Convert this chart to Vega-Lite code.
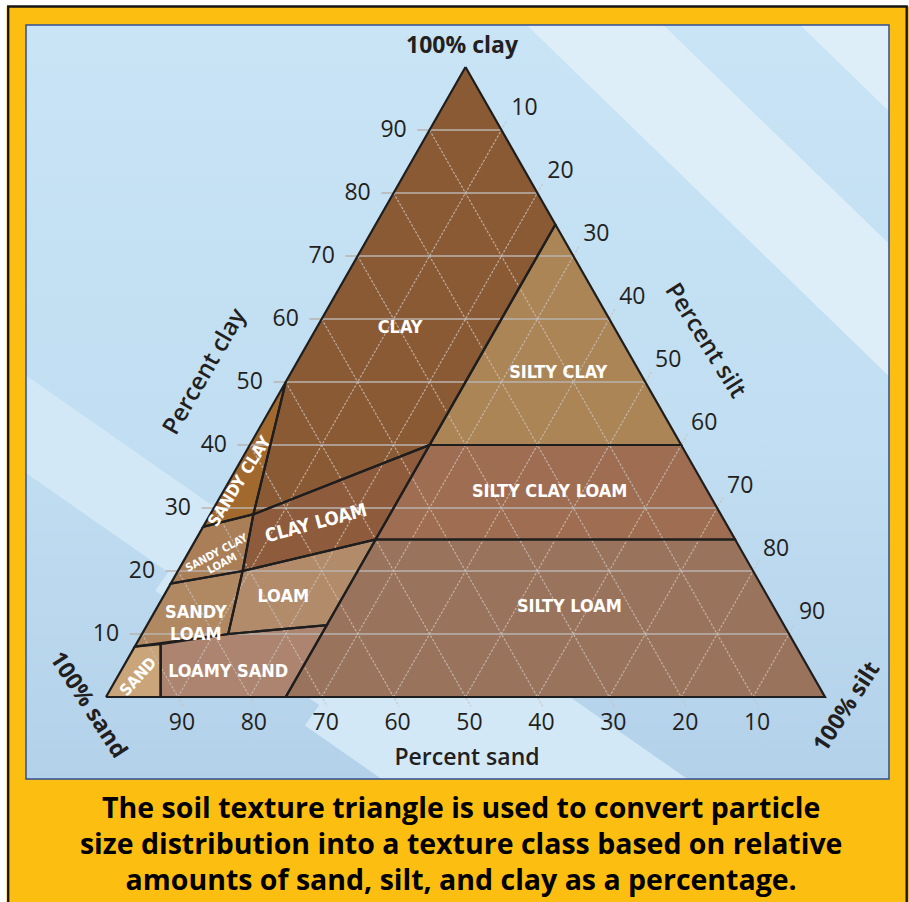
{
  "$schema": "https://vega.github.io/schema/vega-lite/v6.json",
  "width": 863,
  "height": 754,
  "autosize": {"type": "none"},
  "padding": {"left": 26, "top": 25, "right": 20, "bottom": 123},
  "background": "#FDBE12",
  "config": {"view": {"stroke": null}},
  "datasets": {
    "regions": [
      {"r": "CLAY", "i": 0, "clay": 100, "silt": 0},
      {"r": "CLAY", "i": 1, "clay": 75, "silt": 25},
      {"r": "CLAY", "i": 2, "clay": 40, "silt": 25},
      {"r": "CLAY", "i": 3, "clay": 29, "silt": 6},
      {"r": "CLAY", "i": 4, "clay": 50, "silt": 0},
      {"r": "CLAY", "i": 5, "clay": 100, "silt": 0},
      {"r": "SILTY CLAY", "i": 0, "clay": 75, "silt": 25},
      {"r": "SILTY CLAY", "i": 1, "clay": 40, "silt": 60},
      {"r": "SILTY CLAY", "i": 2, "clay": 40, "silt": 25},
      {"r": "SILTY CLAY", "i": 3, "clay": 75, "silt": 25},
      {"r": "SILTY CLAY LOAM", "i": 0, "clay": 40, "silt": 25},
      {"r": "SILTY CLAY LOAM", "i": 1, "clay": 40, "silt": 60},
      {"r": "SILTY CLAY LOAM", "i": 2, "clay": 25, "silt": 75},
      {"r": "SILTY CLAY LOAM", "i": 3, "clay": 25, "silt": 25},
      {"r": "SILTY CLAY LOAM", "i": 4, "clay": 40, "silt": 25},
      {"r": "SILTY LOAM", "i": 0, "clay": 25, "silt": 25},
      {"r": "SILTY LOAM", "i": 1, "clay": 25, "silt": 75},
      {"r": "SILTY LOAM", "i": 2, "clay": 0, "silt": 100},
      {"r": "SILTY LOAM", "i": 3, "clay": 0, "silt": 25},
      {"r": "SILTY LOAM", "i": 4, "clay": 25, "silt": 25},
      {"r": "SANDY CLAY", "i": 0, "clay": 50, "silt": 0},
      {"r": "SANDY CLAY", "i": 1, "clay": 29, "silt": 6},
      {"r": "SANDY CLAY", "i": 2, "clay": 27, "silt": 0},
      {"r": "SANDY CLAY", "i": 3, "clay": 50, "silt": 0},
      {"r": "CLAY LOAM", "i": 0, "clay": 29, "silt": 6},
      {"r": "CLAY LOAM", "i": 1, "clay": 40, "silt": 25},
      {"r": "CLAY LOAM", "i": 2, "clay": 25, "silt": 25},
      {"r": "CLAY LOAM", "i": 3, "clay": 20, "silt": 9},
      {"r": "CLAY LOAM", "i": 4, "clay": 29, "silt": 6},
      {"r": "SANDY CLAY LOAM", "i": 0, "clay": 27, "silt": 0},
      {"r": "SANDY CLAY LOAM", "i": 1, "clay": 29, "silt": 6},
      {"r": "SANDY CLAY LOAM", "i": 2, "clay": 20, "silt": 9},
      {"r": "SANDY CLAY LOAM", "i": 3, "clay": 18, "silt": 0},
      {"r": "SANDY CLAY LOAM", "i": 4, "clay": 27, "silt": 0},
      {"r": "LOAM", "i": 0, "clay": 20, "silt": 9},
      {"r": "LOAM", "i": 1, "clay": 25, "silt": 25},
      {"r": "LOAM", "i": 2, "clay": 11.4, "silt": 25},
      {"r": "LOAM", "i": 3, "clay": 10, "silt": 12},
      {"r": "LOAM", "i": 4, "clay": 20, "silt": 9},
      {"r": "SANDY LOAM", "i": 0, "clay": 18, "silt": 0},
      {"r": "SANDY LOAM", "i": 1, "clay": 20, "silt": 9},
      {"r": "SANDY LOAM", "i": 2, "clay": 10, "silt": 12},
      {"r": "SANDY LOAM", "i": 3, "clay": 8, "silt": 0},
      {"r": "SANDY LOAM", "i": 4, "clay": 18, "silt": 0},
      {"r": "LOAMY SAND", "i": 0, "clay": 8.4, "silt": 3.4},
      {"r": "LOAMY SAND", "i": 1, "clay": 10, "silt": 12},
      {"r": "LOAMY SAND", "i": 2, "clay": 11.4, "silt": 25},
      {"r": "LOAMY SAND", "i": 3, "clay": 0, "silt": 25},
      {"r": "LOAMY SAND", "i": 4, "clay": 0, "silt": 7.6},
      {"r": "LOAMY SAND", "i": 5, "clay": 8.4, "silt": 3.4},
      {"r": "SAND", "i": 0, "clay": 0, "silt": 0},
      {"r": "SAND", "i": 1, "clay": 0, "silt": 7.6},
      {"r": "SAND", "i": 2, "clay": 8.4, "silt": 3.4},
      {"r": "SAND", "i": 3, "clay": 8, "silt": 0},
      {"r": "SAND", "i": 4, "clay": 0, "silt": 0}
    ],
    "labels": [
      {"label": "CLAY", "clay": 58.6, "silt": 11.6},
      {"label": "SILTY CLAY", "clay": 51.4, "silt": 37.2},
      {"label": "SILTY CLAY LOAM", "clay": 32.6, "silt": 45.4},
      {"label": "SILTY LOAM", "clay": 14.3, "silt": 57.3},
      {"label": "CLAY LOAM", "clay": 27.6, "silt": 15.4},
      {"label": "LOAM", "clay": 15.9, "silt": 16.7},
      {"label": "SANDY\nLOAM", "clay": 13.3, "silt": 5.85},
      {"label": "LOAMY SAND", "clay": 4.0, "silt": 15.0},
      {"label": "SAND", "clay": 3.2, "silt": 2.9},
      {"label": "SANDY CLAY", "clay": 34.2, "silt": 1.5},
      {"label": "SANDY CLAY\nLOAM", "clay": 22.8, "silt": 4.0}
    ],
    "ticks": [
      {"axis": "clay", "v": 10}, {"axis": "clay", "v": 20}, {"axis": "clay", "v": 30},
      {"axis": "clay", "v": 40}, {"axis": "clay", "v": 50}, {"axis": "clay", "v": 60},
      {"axis": "clay", "v": 70}, {"axis": "clay", "v": 80}, {"axis": "clay", "v": 90},
      {"axis": "silt", "v": 10}, {"axis": "silt", "v": 20}, {"axis": "silt", "v": 30},
      {"axis": "silt", "v": 40}, {"axis": "silt", "v": 50}, {"axis": "silt", "v": 60},
      {"axis": "silt", "v": 70}, {"axis": "silt", "v": 80}, {"axis": "silt", "v": 90},
      {"axis": "sand", "v": 10}, {"axis": "sand", "v": 20}, {"axis": "sand", "v": 30},
      {"axis": "sand", "v": 40}, {"axis": "sand", "v": 50}, {"axis": "sand", "v": 60},
      {"axis": "sand", "v": 70}, {"axis": "sand", "v": 80}, {"axis": "sand", "v": 90}
    ]
  },
  "layer": [
    {
      "data": {"values": [{}]},
      "mark": {"type": "rect", "fill": "transparent", "stroke": "#FFFFFF", "strokeWidth": 13, "clip": false},
      "encoding": {
        "x": {"datum": -14.7427, "type": "quantitative", "scale": {"domain": [-11.1266, 108.9013], "nice": false, "zero": false}, "axis": null},
        "x2": {"datum": 113.213},
        "y": {"datum": 110.635, "type": "quantitative", "scale": {"domain": [-13.0159, 106.6667], "nice": false, "zero": false}, "axis": null},
        "y2": {"datum": -35.397}
      }
    },
    {
      "data": {"values": [{}]},
      "mark": {"type": "rect", "fill": "transparent", "stroke": "#151515", "strokeWidth": 2.3, "clip": false},
      "encoding": {
        "x": {"datum": -13.602, "type": "quantitative", "scale": {"domain": [-11.1266, 108.9013], "nice": false, "zero": false}, "axis": null},
        "x2": {"datum": 111.363},
        "y": {"datum": 109.603, "type": "quantitative", "scale": {"domain": [-13.0159, 106.6667], "nice": false, "zero": false}, "axis": null},
        "y2": {"datum": -34.603}
      }
    },
    {
      "data": {"values": [{}]},
      "mark": {"type": "rect", "strokeWidth": 0, "fill": {"gradient": "linear", "x1": 0, "y1": 0, "x2": 0, "y2": 1, "stops": [{"offset": 0, "color": "#C8E4F5"}, {"offset": 0.55, "color": "#C1DEF2"}, {"offset": 1, "color": "#B3D1E9"}]}},
      "encoding": {
        "x": {"datum": -11.1266, "type": "quantitative", "scale": {"domain": [-11.1266, 108.9013], "nice": false, "zero": false}, "axis": null},
        "x2": {"datum": 108.9013},
        "y": {"datum": 106.6667, "type": "quantitative", "scale": {"domain": [-13.0159, 106.6667], "nice": false, "zero": false}, "axis": null},
        "y2": {"datum": -13.0159}
      }
    },
    {
      "data": {"values": [{}]},
      "mark": {"type": "rule", "stroke": "#DEEEF8", "strokeWidth": 120, "strokeCap": "butt", "clip": true},
      "encoding": {
        "x": {"datum": 92.35, "type": "quantitative", "scale": {"domain": [-11.1266, 108.9013], "nice": false, "zero": false}, "axis": null},
        "x2": {"datum": 132.27},
        "y": {"datum": 124.6, "type": "quantitative", "scale": {"domain": [-13.0159, 106.6667], "nice": false, "zero": false}, "axis": null},
        "y2": {"datum": 80.32}
      }
    },
    {
      "data": {"values": [{}]},
      "mark": {"type": "rule", "stroke": "#DEEEF8", "strokeWidth": 95, "strokeCap": "butt", "clip": true},
      "encoding": {
        "x": {"datum": 58.03, "type": "quantitative", "scale": {"domain": [-11.1266, 108.9013], "nice": false, "zero": false}, "axis": null},
        "x2": {"datum": 127.93},
        "y": {"datum": 117.71, "type": "quantitative", "scale": {"domain": [-13.0159, 106.6667], "nice": false, "zero": false}, "axis": null},
        "y2": {"datum": 40.38}
      }
    },
    {
      "data": {"values": [{}]},
      "mark": {"type": "rule", "stroke": "#D3E8F6", "strokeWidth": 80, "strokeCap": "butt", "clip": true},
      "encoding": {
        "x": {"datum": -22.39, "type": "quantitative", "scale": {"domain": [-11.1266, 108.9013], "nice": false, "zero": false}, "axis": null},
        "x2": {"datum": 80.25},
        "y": {"datum": 52.25, "type": "quantitative", "scale": {"domain": [-13.0159, 106.6667], "nice": false, "zero": false}, "axis": null},
        "y2": {"datum": -29.46}
      }
    },
    {
      "data": {"values": [{}]},
      "mark": {"type": "rule", "stroke": "#D3E8F6", "strokeWidth": 125, "strokeCap": "butt", "clip": true},
      "encoding": {
        "x": {"datum": 11.82, "type": "quantitative", "scale": {"domain": [-11.1266, 108.9013], "nice": false, "zero": false}, "axis": null},
        "x2": {"datum": 80.25},
        "y": {"datum": 25.02, "type": "quantitative", "scale": {"domain": [-13.0159, 106.6667], "nice": false, "zero": false}, "axis": null},
        "y2": {"datum": -29.46}
      }
    },
    {
      "data": {"values": [{}]},
      "mark": {"type": "rule", "stroke": "#D3E8F6", "strokeWidth": 175, "strokeCap": "butt", "clip": true},
      "encoding": {
        "x": {"datum": 34.63, "type": "quantitative", "scale": {"domain": [-11.1266, 108.9013], "nice": false, "zero": false}, "axis": null},
        "x2": {"datum": 80.25},
        "y": {"datum": 6.86, "type": "quantitative", "scale": {"domain": [-13.0159, 106.6667], "nice": false, "zero": false}, "axis": null},
        "y2": {"datum": -29.46}
      }
    },
    {
      "data": {"values": [{}]},
      "mark": {"type": "rect", "fill": "transparent", "stroke": "#2F4F96", "strokeWidth": 1.5},
      "encoding": {
        "x": {"datum": -11.1266, "type": "quantitative", "scale": {"domain": [-11.1266, 108.9013], "nice": false, "zero": false}, "axis": null},
        "x2": {"datum": 108.9013},
        "y": {"datum": 106.6667, "type": "quantitative", "scale": {"domain": [-13.0159, 106.6667], "nice": false, "zero": false}, "axis": null},
        "y2": {"datum": -13.0159}
      }
    },
    {
      "data": {"name": "regions"},
      "transform": [{"calculate": "datum.silt + datum.clay / 2", "as": "x"}],
      "mark": {"type": "line", "strokeWidth": 0, "strokeOpacity": 0},
      "encoding": {
        "x": {"field": "x", "type": "quantitative", "scale": {"domain": [-11.1266, 108.9013], "nice": false, "zero": false}, "axis": null},
        "y": {"field": "clay", "type": "quantitative", "scale": {"domain": [-13.0159, 106.6667], "nice": false, "zero": false}, "axis": null},
        "order": {"field": "i", "type": "quantitative"},
        "detail": {"field": "r", "type": "nominal"},
        "fill": {"field": "r", "type": "nominal", "legend": null, "scale": {
          "domain": ["CLAY", "SILTY CLAY", "SILTY CLAY LOAM", "SILTY LOAM", "SANDY CLAY", "CLAY LOAM", "SANDY CLAY LOAM", "LOAM", "SANDY LOAM", "LOAMY SAND", "SAND"],
          "range": ["#8A5A35", "#AC8556", "#9F6E52", "#9A735C", "#A2692F", "#8E5C3D", "#AA7E56", "#B28B6B", "#B08963", "#AD8470", "#C9A579"]}}
      }
    },
    {
      "data": {"name": "ticks"},
      "transform": [
        {"filter": "datum.axis == 'clay'"},
        {"calculate": "datum.v / 2 - 1.7", "as": "gx1"},
        {"calculate": "datum.v", "as": "gy1"},
        {"calculate": "100 - datum.v / 2", "as": "gx2"},
        {"calculate": "datum.v", "as": "gy2"}
      ],
      "mark": {"type": "rule", "stroke": "#B8B3AE", "strokeWidth": 1.6},
      "encoding": {
        "x": {"field": "gx1", "type": "quantitative", "scale": {"domain": [-11.1266, 108.9013], "nice": false, "zero": false}, "axis": null},
        "y": {"field": "gy1", "type": "quantitative", "scale": {"domain": [-13.0159, 106.6667], "nice": false, "zero": false}, "axis": null},
        "x2": {"field": "gx2"},
        "y2": {"field": "gy2"}
      }
    },
    {
      "data": {"name": "ticks"},
      "transform": [
        {"filter": "datum.axis != 'clay'"},
        {"calculate": "datum.axis == 'silt' ? datum.v : (100 - datum.v) / 2", "as": "gx1"},
        {"calculate": "datum.axis == 'silt' ? 0 : 100 - datum.v", "as": "gy1"},
        {"calculate": "datum.axis == 'silt' ? datum.v + (101.65 - datum.v) / 2 : 100.75 - datum.v", "as": "gx2"},
        {"calculate": "datum.axis == 'silt' ? 101.65 - datum.v : -1.5", "as": "gy2"}
      ],
      "mark": {"type": "rule", "stroke": "#C9C0B8", "strokeWidth": 1.2, "strokeDash": [2.5, 1.5], "opacity": 0.8},
      "encoding": {
        "x": {"field": "gx1", "type": "quantitative", "scale": {"domain": [-11.1266, 108.9013], "nice": false, "zero": false}, "axis": null},
        "y": {"field": "gy1", "type": "quantitative", "scale": {"domain": [-13.0159, 106.6667], "nice": false, "zero": false}, "axis": null},
        "x2": {"field": "gx2"},
        "y2": {"field": "gy2"}
      }
    },
    {
      "data": {"name": "regions"},
      "transform": [{"calculate": "datum.silt + datum.clay / 2", "as": "x"}],
      "mark": {"type": "line", "stroke": "#1E1E1E", "strokeWidth": 2.2, "strokeJoin": "miter"},
      "encoding": {
        "x": {"field": "x", "type": "quantitative", "scale": {"domain": [-11.1266, 108.9013], "nice": false, "zero": false}, "axis": null},
        "y": {"field": "clay", "type": "quantitative", "scale": {"domain": [-13.0159, 106.6667], "nice": false, "zero": false}, "axis": null},
        "order": {"field": "i", "type": "quantitative"},
        "detail": {"field": "r", "type": "nominal"}
      }
    },
    {
      "data": {"name": "ticks"},
      "transform": [
        {"filter": "datum.axis == 'clay'"},
        {"calculate": "datum.v / 2", "as": "lx"},
        {"calculate": "datum.v", "as": "ly"}
      ],
      "mark": {"type": "text", "font": "Open Sans", "fontSize": 23, "color": "#231F20", "align": "center", "baseline": "middle", "dx": -36, "dy": 0},
      "encoding": {
        "x": {"field": "lx", "type": "quantitative", "scale": {"domain": [-11.1266, 108.9013], "nice": false, "zero": false}, "axis": null},
        "y": {"field": "ly", "type": "quantitative", "scale": {"domain": [-13.0159, 106.6667], "nice": false, "zero": false}, "axis": null},
        "text": {"field": "v", "type": "nominal"}
      }
    },
    {
      "data": {"name": "ticks"},
      "transform": [
        {"filter": "datum.axis == 'silt'"},
        {"calculate": "50 + datum.v / 2", "as": "lx"},
        {"calculate": "100 - datum.v", "as": "ly"}
      ],
      "mark": {"type": "text", "font": "Open Sans", "fontSize": 23, "color": "#231F20", "align": "center", "baseline": "middle", "dx": 23, "dy": -22},
      "encoding": {
        "x": {"field": "lx", "type": "quantitative", "scale": {"domain": [-11.1266, 108.9013], "nice": false, "zero": false}, "axis": null},
        "y": {"field": "ly", "type": "quantitative", "scale": {"domain": [-13.0159, 106.6667], "nice": false, "zero": false}, "axis": null},
        "text": {"field": "v", "type": "nominal"}
      }
    },
    {
      "data": {"name": "ticks"},
      "transform": [
        {"filter": "datum.axis == 'sand'"},
        {"calculate": "100 - datum.v", "as": "lx"},
        {"calculate": "0", "as": "ly"}
      ],
      "mark": {"type": "text", "font": "Open Sans", "fontSize": 23, "color": "#231F20", "align": "center", "baseline": "middle", "dx": 4, "dy": 26},
      "encoding": {
        "x": {"field": "lx", "type": "quantitative", "scale": {"domain": [-11.1266, 108.9013], "nice": false, "zero": false}, "axis": null},
        "y": {"field": "ly", "type": "quantitative", "scale": {"domain": [-13.0159, 106.6667], "nice": false, "zero": false}, "axis": null},
        "text": {"field": "v", "type": "nominal"}
      }
    },
    {
      "data": {"values": [{}]},
      "mark": {"type": "text", "text": "100% clay", "font": "Open Sans", "fontSize": 23, "fontWeight": "bold", "color": "#231F20", "align": "center", "baseline": "middle", "dx": -3.5, "dy": -21},
      "encoding": {
        "x": {"datum": 50, "type": "quantitative", "scale": {"domain": [-11.1266, 108.9013], "nice": false, "zero": false}, "axis": null},
        "y": {"datum": 100, "type": "quantitative", "scale": {"domain": [-13.0159, 106.6667], "nice": false, "zero": false}, "axis": null}
      }
    },
    {
      "data": {"values": [{}]},
      "mark": {"type": "text", "text": "Percent sand", "font": "Open Sans", "fontSize": 23, "fontWeight": 600, "color": "#231F20", "align": "center", "baseline": "middle", "dx": 1.5, "dy": 61},
      "encoding": {
        "x": {"datum": 50, "type": "quantitative", "scale": {"domain": [-11.1266, 108.9013], "nice": false, "zero": false}, "axis": null},
        "y": {"datum": 0, "type": "quantitative", "scale": {"domain": [-13.0159, 106.6667], "nice": false, "zero": false}, "axis": null}
      }
    },
    {
      "data": {"values": [{}]},
      "mark": {"type": "text", "text": "Percent clay", "font": "Open Sans", "fontSize": 24, "fontWeight": 600, "color": "#231F20", "align": "center", "baseline": "middle", "angle": -60},
      "encoding": {
        "x": {"datum": 13.77, "type": "quantitative", "scale": {"domain": [-11.1266, 108.9013], "nice": false, "zero": false}, "axis": null},
        "y": {"datum": 51.59, "type": "quantitative", "scale": {"domain": [-13.0159, 106.6667], "nice": false, "zero": false}, "axis": null}
      }
    },
    {
      "data": {"values": [{}]},
      "mark": {"type": "text", "text": "Percent silt", "font": "Open Sans", "fontSize": 24, "fontWeight": 600, "color": "#231F20", "align": "center", "baseline": "middle", "angle": 58},
      "encoding": {
        "x": {"datum": 83.31, "type": "quantitative", "scale": {"domain": [-11.1266, 108.9013], "nice": false, "zero": false}, "axis": null},
        "y": {"datum": 56.51, "type": "quantitative", "scale": {"domain": [-13.0159, 106.6667], "nice": false, "zero": false}, "axis": null}
      }
    },
    {
      "data": {"values": [{}]},
      "mark": {"type": "text", "text": "100% sand", "font": "Open Sans", "fontSize": 23, "fontWeight": "bold", "color": "#231F20", "align": "center", "baseline": "middle", "angle": 57},
      "encoding": {
        "x": {"datum": -2.5, "type": "quantitative", "scale": {"domain": [-11.1266, 108.9013], "nice": false, "zero": false}, "axis": null},
        "y": {"datum": -1.27, "type": "quantitative", "scale": {"domain": [-13.0159, 106.6667], "nice": false, "zero": false}, "axis": null}
      }
    },
    {
      "data": {"values": [{}]},
      "mark": {"type": "text", "text": "100% silt", "font": "Open Sans", "fontSize": 23, "fontWeight": "bold", "color": "#231F20", "align": "center", "baseline": "middle", "angle": -57},
      "encoding": {
        "x": {"datum": 103.06, "type": "quantitative", "scale": {"domain": [-11.1266, 108.9013], "nice": false, "zero": false}, "axis": null},
        "y": {"datum": -1.59, "type": "quantitative", "scale": {"domain": [-13.0159, 106.6667], "nice": false, "zero": false}, "axis": null}
      }
    },
    {
      "data": {"name": "labels"},
      "transform": [
        {"filter": {"field": "label", "oneOf": ["CLAY", "SILTY CLAY", "SILTY CLAY LOAM", "SILTY LOAM", "LOAM", "SANDY\nLOAM", "LOAMY SAND"]}},
        {"calculate": "datum.silt + datum.clay / 2", "as": "x"}
      ],
      "mark": {"type": "text", "font": "DejaVu Sans Condensed, sans-serif", "fontSize": 18, "fontWeight": "bold", "color": "#FFFFFF", "align": "center", "baseline": "middle", "lineBreak": "\n", "lineHeight": 22},
      "encoding": {
        "x": {"field": "x", "type": "quantitative", "scale": {"domain": [-11.1266, 108.9013], "nice": false, "zero": false}, "axis": null},
        "y": {"field": "clay", "type": "quantitative", "scale": {"domain": [-13.0159, 106.6667], "nice": false, "zero": false}, "axis": null},
        "text": {"field": "label", "type": "nominal"}
      }
    },
    {
      "data": {"name": "labels"},
      "transform": [
        {"filter": {"field": "label", "equal": "CLAY LOAM"}},
        {"calculate": "datum.silt + datum.clay / 2", "as": "x"}
      ],
      "mark": {"type": "text", "font": "DejaVu Sans Condensed, sans-serif", "fontSize": 18.5, "fontWeight": "bold", "color": "#FFFFFF", "align": "center", "baseline": "middle", "angle": -15},
      "encoding": {
        "x": {"field": "x", "type": "quantitative", "scale": {"domain": [-11.1266, 108.9013], "nice": false, "zero": false}, "axis": null},
        "y": {"field": "clay", "type": "quantitative", "scale": {"domain": [-13.0159, 106.6667], "nice": false, "zero": false}, "axis": null},
        "text": {"field": "label", "type": "nominal"}
      }
    },
    {
      "data": {"name": "labels"},
      "transform": [
        {"filter": {"field": "label", "equal": "SANDY CLAY"}},
        {"calculate": "datum.silt + datum.clay / 2", "as": "x"}
      ],
      "mark": {"type": "text", "font": "DejaVu Sans Condensed, sans-serif", "fontSize": 16.5, "fontWeight": "bold", "color": "#FFFFFF", "align": "center", "baseline": "middle", "angle": -58},
      "encoding": {
        "x": {"field": "x", "type": "quantitative", "scale": {"domain": [-11.1266, 108.9013], "nice": false, "zero": false}, "axis": null},
        "y": {"field": "clay", "type": "quantitative", "scale": {"domain": [-13.0159, 106.6667], "nice": false, "zero": false}, "axis": null},
        "text": {"field": "label", "type": "nominal"}
      }
    },
    {
      "data": {"name": "labels"},
      "transform": [
        {"filter": {"field": "label", "oneOf": ["SANDY CLAY\nLOAM"]}},
        {"calculate": "datum.silt + datum.clay / 2", "as": "x"}
      ],
      "mark": {"type": "text", "font": "DejaVu Sans Condensed, sans-serif", "fontSize": 11, "fontWeight": "bold", "color": "#FFFFFF", "align": "center", "baseline": "middle", "angle": -28, "lineBreak": "\n", "lineHeight": 12},
      "encoding": {
        "x": {"field": "x", "type": "quantitative", "scale": {"domain": [-11.1266, 108.9013], "nice": false, "zero": false}, "axis": null},
        "y": {"field": "clay", "type": "quantitative", "scale": {"domain": [-13.0159, 106.6667], "nice": false, "zero": false}, "axis": null},
        "text": {"field": "label", "type": "nominal"}
      }
    },
    {
      "data": {"name": "labels"},
      "transform": [
        {"filter": {"field": "label", "equal": "SAND"}},
        {"calculate": "datum.silt + datum.clay / 2", "as": "x"}
      ],
      "mark": {"type": "text", "font": "DejaVu Sans Condensed, sans-serif", "fontSize": 16, "fontWeight": "bold", "color": "#FFFFFF", "align": "center", "baseline": "middle", "angle": -48},
      "encoding": {
        "x": {"field": "x", "type": "quantitative", "scale": {"domain": [-11.1266, 108.9013], "nice": false, "zero": false}, "axis": null},
        "y": {"field": "clay", "type": "quantitative", "scale": {"domain": [-13.0159, 106.6667], "nice": false, "zero": false}, "axis": null},
        "text": {"field": "label", "type": "nominal"}
      }
    },
    {
      "data": {"values": [{}]},
      "mark": {"type": "text", "text": ["The soil texture triangle is used to convert particle", "size distribution into a texture class based on relative", "amounts of sand, silt, and clay as a percentage."], "font": "Open Sans", "fontSize": 28.5, "fontWeight": "bold", "color": "#000000", "align": "center", "baseline": "top", "lineHeight": 36, "clip": false},
      "encoding": {
        "x": {"datum": 49.4, "type": "quantitative", "scale": {"domain": [-11.1266, 108.9013], "nice": false, "zero": false}, "axis": null},
        "y": {"datum": -15.56, "type": "quantitative", "scale": {"domain": [-13.0159, 106.6667], "nice": false, "zero": false}, "axis": null}
      }
    }
  ]
}
